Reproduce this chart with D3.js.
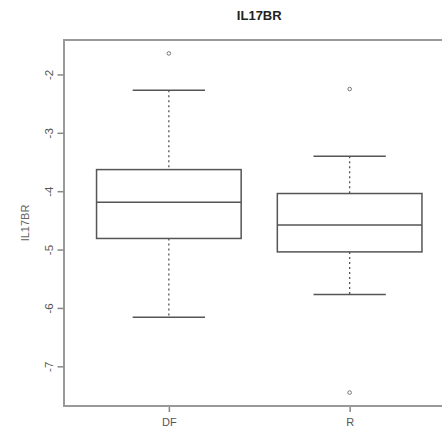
<!DOCTYPE html>
<html>
<head>
<meta charset="utf-8">
<script src="https://cdn.jsdelivr.net/npm/d3@7"></script>
<style>
  body { margin: 0; background: #fff; }
  svg { display: block; font-family: "Liberation Sans", Arial, sans-serif; }
</style>
</head>
<body>
<svg id="chart" width="442" height="430"></svg>
<script>
"use strict";

// boxplot stats
var categories = ["DF", "R"];
var lowerWhisker = [-6.16, -5.77];
var lowerQuartile = [-4.81, -5.04];
var medians = [-4.19, -4.58];
var upperQuartile = [-3.63, -4.04];
var upperWhisker = [-2.27, -3.40];
var outliers = [[-1.64], [-2.25, -7.45]];
var yTicks = [-7, -6, -5, -4, -3, -2];

(function() {
  var svg = d3.select("#chart");
  var plotLeft = 64, plotTop = 40, plotBottom = 406, plotRight = 454.5;

  var x = d3.scaleLinear().domain([0.42, 2.58]).range([plotLeft, plotRight]);
  var y = d3.scaleLinear().domain([-7.68, -1.41]).range([plotBottom, plotTop]);

  var boxes = categories.map(function(c, i) {
    return {
      name: c, pos: i + 1,
      lo: lowerWhisker[i], q1: lowerQuartile[i], med: medians[i],
      q3: upperQuartile[i], hi: upperWhisker[i], out: outliers[i]
    };
  });

  var ink = "#555";
  var halfBox = 0.4, halfCap = 0.2;

  var g = svg.selectAll("g.box").data(boxes).enter().append("g").attr("class", "box");

  // whiskers, dashed
  g.append("line")
    .attr("x1", function(d) { return x(d.pos); }).attr("x2", function(d) { return x(d.pos); })
    .attr("y1", function(d) { return y(d.hi); }).attr("y2", function(d) { return y(d.q3); })
    .attr("stroke", ink).attr("stroke-width", 1.3).attr("stroke-dasharray", "2,3");
  g.append("line")
    .attr("x1", function(d) { return x(d.pos); }).attr("x2", function(d) { return x(d.pos); })
    .attr("y1", function(d) { return y(d.q1); }).attr("y2", function(d) { return y(d.lo); })
    .attr("stroke", ink).attr("stroke-width", 1.3).attr("stroke-dasharray", "2,3");

  // caps
  ["hi", "lo"].forEach(function(k) {
    g.append("line")
      .attr("x1", function(d) { return x(d.pos - halfCap); })
      .attr("x2", function(d) { return x(d.pos + halfCap); })
      .attr("y1", function(d) { return y(d[k]); }).attr("y2", function(d) { return y(d[k]); })
      .attr("stroke", ink).attr("stroke-width", 1.5);
  });

  // box
  g.append("rect")
    .attr("x", function(d) { return x(d.pos - halfBox); })
    .attr("width", function(d) { return x(d.pos + halfBox) - x(d.pos - halfBox); })
    .attr("y", function(d) { return y(d.q3); })
    .attr("height", function(d) { return y(d.q1) - y(d.q3); })
    .attr("fill", "none").attr("stroke", ink).attr("stroke-width", 1.5);

  // median
  g.append("line")
    .attr("x1", function(d) { return x(d.pos - halfBox); })
    .attr("x2", function(d) { return x(d.pos + halfBox); })
    .attr("y1", function(d) { return y(d.med); }).attr("y2", function(d) { return y(d.med); })
    .attr("stroke", ink).attr("stroke-width", 1.5);

  // outliers
  g.selectAll("circle").data(function(d) {
      return d.out.map(function(v) { return { pos: d.pos, v: v }; });
    })
    .enter().append("circle")
    .attr("cx", function(d) { return x(d.pos); })
    .attr("cy", function(d) { return y(d.v); })
    .attr("r", 1.8).attr("fill", "none").attr("stroke", "#777").attr("stroke-width", 1);

  // frame (right side falls off the picture)
  svg.append("path")
    .attr("d", "M" + (plotRight + 2) + "," + plotTop + "H" + plotLeft + "V" + plotBottom + "H" + (plotRight + 2))
    .attr("fill", "none").attr("stroke", "#999").attr("stroke-width", 2);

  // y axis
  var yAxis = svg.append("g").attr("transform", "translate(" + (plotLeft - 0.5) + ",0)")
    .call(d3.axisLeft(y).tickValues(yTicks).tickSize(6).tickPadding(0)
      .tickFormat(function(d) { return "-" + Math.abs(d); }));
  yAxis.select(".domain").remove();
  yAxis.selectAll(".tick line").attr("stroke", "#888").attr("stroke-width", 1.5);
  yAxis.selectAll(".tick text")
    .attr("x", 0).attr("dy", 0)
    .attr("transform", "translate(-11,0) rotate(-90)")
    .attr("text-anchor", "middle")
    .attr("fill", "#555").style("font-size", "11.5px");

  // x axis
  var xAxis = svg.append("g").attr("transform", "translate(0," + (plotBottom + 1) + ")")
    .call(d3.axisBottom(x).tickValues(boxes.map(function(d) { return d.pos; }))
      .tickSize(5).tickPadding(6).tickFormat(function(d) { return categories[d - 1]; }));
  xAxis.select(".domain").remove();
  xAxis.selectAll(".tick line").attr("stroke", "#888").attr("stroke-width", 1.5);
  xAxis.selectAll(".tick text").attr("fill", "#555").style("font-size", "11px");

  // titles
  svg.append("text").attr("x", (plotLeft + plotRight) / 2).attr("y", 20)
    .attr("text-anchor", "middle").style("font-size", "13px").style("font-weight", "bold")
    .attr("fill", "#222").text("IL17BR");

  svg.append("text").attr("transform", "translate(29," + ((plotTop + plotBottom) / 2) + ") rotate(-90)")
    .attr("text-anchor", "middle").style("font-size", "11px").attr("fill", "#666").text("IL17BR");
}());
</script>
</body>
</html>
